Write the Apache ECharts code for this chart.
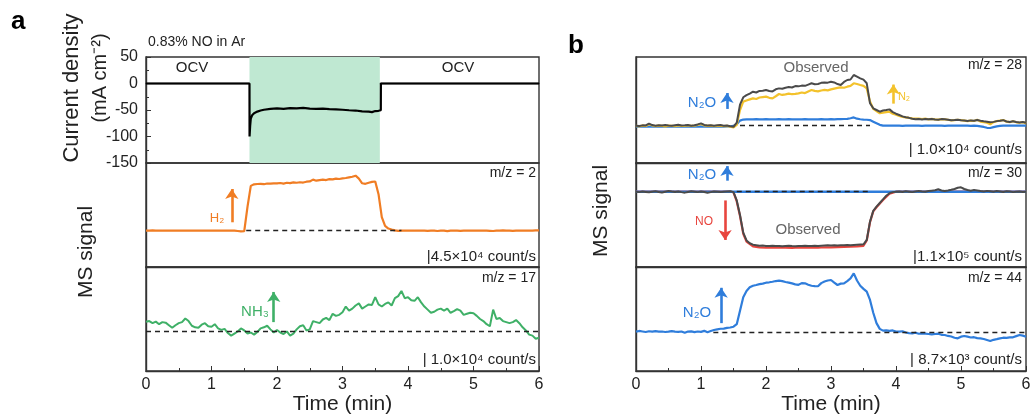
<!DOCTYPE html>
<html>
<head>
<meta charset="utf-8">
<script src="https://cdn.jsdelivr.net/npm/echarts@6/dist/echarts.min.js"></script>
<style>
html, body { margin: 0; padding: 0; background: #fff; }
#chart { width: 1031px; height: 416px; }
</style>
</head>
<body>
<div id="chart"></div>
<script>
// sampling grid of the MS traces (min)
const timeMin = [
  0, 0.05, 0.1, 0.15, 0.2, 0.25, 0.3, 0.35, 0.4, 0.45,
  0.5, 0.55, 0.6, 0.65, 0.7, 0.75, 0.8, 0.85, 0.9, 0.95,
  1, 1.05, 1.1, 1.15, 1.2, 1.25, 1.3, 1.35, 1.4, 1.45,
  1.5, 1.55, 1.6, 1.65, 1.7, 1.75, 1.8, 1.85, 1.9, 1.95,
  2, 2.05, 2.1, 2.15, 2.2, 2.25, 2.3, 2.35, 2.4, 2.45,
  2.5, 2.55, 2.6, 2.65, 2.7, 2.75, 2.8, 2.85, 2.9, 2.95,
  3, 3.05, 3.1, 3.15, 3.2, 3.25, 3.3, 3.35, 3.4, 3.45,
  3.5, 3.55, 3.6, 3.65, 3.7, 3.75, 3.8, 3.85, 3.9, 3.95,
  4, 4.05, 4.1, 4.15, 4.2, 4.25, 4.3, 4.35, 4.4, 4.45,
  4.5, 4.55, 4.6, 4.65, 4.7, 4.75, 4.8, 4.85, 4.9, 4.95,
  5, 5.05, 5.1, 5.15, 5.2, 5.25, 5.3, 5.35, 5.4, 5.45,
  5.5, 5.55, 5.6, 5.65, 5.7, 5.75, 5.8, 5.85, 5.9, 5.95,
  6
];

// current density (mA cm-2)
const currentTime = [0, 1.58, 1.581, 1.59, 1.6, 1.62, 1.65, 1.7, 1.75, 1.8,
  1.9, 2.0, 2.1, 2.2, 2.3, 2.4, 2.5, 2.6, 2.7, 2.8, 2.9, 3.0, 3.1, 3.2, 3.3, 3.4,
  3.45, 3.5, 3.55, 3.585, 3.586, 6];
const currentDensity = [0, 0, -100, -80, -66, -60, -56, -53, -51, -49.5,
  -48, -47, -48, -46.5, -47, -46, -47.5, -48, -47.5, -48.5, -49, -49.5, -50.5, -51, -52.5, -53,
  -54, -52, -51.5, -50.5, 0, 0];

// MS signals, relative units (0 = panel bottom, 100 = panel top)
const h2Mz2 = [
  35, 35, 35.2, 35, 34.9, 35, 35.1, 35, 35, 34.9,
  35, 35, 35.1, 35, 35, 34.9, 35, 35, 35.1, 35,
  35, 35, 34.9, 35, 35, 35, 35.1, 35, 34.6, 34.2,
  34.5, 58, 78, 79.5, 79.8, 80, 79.6, 80.3, 80.2, 80.5,
  80.4, 80.8, 80.2, 81, 80.6, 81.3, 81, 81.5, 81.2, 82,
  82.3, 84, 83, 83.5, 84, 83.6, 84.5, 84.2, 85, 84.6,
  85.2, 85.6, 86.2, 86.8, 87.8, 85, 80.5, 80, 81, 81.8,
  82.2, 70, 48, 39.5, 37, 36, 35.2, 34.8, 35, 35,
  35, 35.1, 35, 34.9, 35, 35, 34.8, 35, 35, 34.6,
  35, 34.9, 34.5, 35, 35, 35, 34.8, 35, 35, 35,
  35, 34.9, 35, 35, 35, 34.8, 34.6, 35, 35, 35.2,
  35, 35, 34.8, 35, 35, 34.9, 35, 35, 35, 35.3,
  35.3
];
const nh3Mz17 = [
  47.4, 48, 46, 47.5, 45, 47, 46.5, 44, 41.5, 44,
  46, 47, 50.5, 48, 43.5, 42, 41.5, 44.5, 46, 43,
  42.5, 45, 41, 39.5, 40.5, 36.5, 34, 36, 38, 41,
  39, 36, 37, 35, 37.5, 41, 42, 43.5, 40, 37,
  39.5, 37, 35.5, 38, 34, 36, 40, 43, 44, 39,
  40, 48, 47, 46, 49.5, 51, 49, 55, 53, 54,
  56.5, 62, 58, 60, 63, 65, 60, 62, 64, 63.5,
  71, 64, 62, 64.5, 66, 63, 70, 72, 77, 70,
  71, 68, 67.5, 71, 66, 62, 59, 56, 57, 59,
  60, 58, 60, 56, 57.5, 59.5, 58, 54, 55, 56,
  55.5, 53, 50, 48, 45, 43, 59, 50, 51, 48,
  47, 46, 47, 49, 46, 42, 39, 35, 34, 31,
  32
];
const n2oMz28 = [
  34.3, 34.5, 34.2, 34.4, 34.6, 34.3, 34.4, 34.2, 34.5, 34.3,
  34.4, 34.3, 34.5, 34.2, 34.4, 34.3, 34.5, 34.4, 34.2, 34.4,
  34.5, 34.3, 34.4, 34.2, 34.4, 34.5, 34.3, 34.4, 34.5, 34.6,
  35, 36.5, 40, 41, 41.2, 41.2, 41.1, 41.3, 41.2, 41.2,
  41.3, 41.2, 41.2, 41.1, 41.3, 41.2, 41.2, 41.3, 41.2, 41.2,
  41.1, 41.2, 41.3, 41.2, 41.2, 41.1, 41.2, 41.3, 41.2, 41.2,
  41.3, 41.2, 41.3, 41.4, 41.5, 41.6, 42.2, 43, 41.8, 41.3,
  41, 40.8, 40.5, 39, 37.5, 36, 35.3, 35.2, 35.2, 35.2,
  35.2, 35.2, 35.1, 35.2, 35.2, 35.3, 35.2, 35.2, 35.1, 35.2,
  35.2, 35.2, 35.3, 35.2, 35.2, 35.1, 35.2, 35.2, 35.2, 35.2,
  35.2, 35.2, 35.2, 35.1, 35.2, 35, 34.5, 34, 33.2, 33,
  33.8, 34.6, 35, 35.2, 35.2, 35.2, 35.2, 35.2, 35.2, 35.2,
  35.2
];
const n2Mz28 = [
  35, 34.6, 35.3, 35, 36.5, 35.4, 34.8, 35.2, 35, 34.5,
  35.2, 35, 34.8, 35.5, 35, 34.9, 35.4, 35, 35.2, 36,
  36.8, 35.5, 35, 35.2, 34.8, 35, 35.1, 34.8, 35, 34.2,
  33.5, 36, 50, 57.9, 59, 60, 61, 60.4, 61.8, 62.2,
  62.6, 61.5, 61, 63, 65.1, 64.2, 64.8, 65.5, 64.9, 65.2,
  65.7, 66.5, 66, 67.5, 68.9, 68, 67.6, 68.4, 69, 68.5,
  69.5, 70.2, 70.8, 71.4, 71, 72, 72.8, 75.2, 74.5, 73.6,
  72.8, 70.4, 58, 51, 49, 46.9, 47.5, 48, 48.4, 46.5,
  45.5, 44.3, 43.5, 43, 42.5, 42.1, 41.8, 42, 41.5, 41.8,
  41.2, 41.6, 41.2, 41, 41.4, 41.2, 40.8, 40.2, 40.5, 40.8,
  40.4, 40, 39.5, 40, 39.6, 40.8, 39, 38.5, 38, 36.5,
  38.5, 39.5, 40, 40.6, 39, 38.5, 39.4, 38.4, 38, 38.6,
  37.4
];
const observedMz28 = [
  35.2, 35, 35.5, 35.4, 37.2, 35.8, 35.2, 35.6, 35.3, 35.9,
  35.4, 35.2, 35.6, 36, 35.3, 35.5, 35.8, 35.2, 35.6, 36.4,
  37.4, 35.9, 35.4, 35.6, 35.2, 35.5, 35.8, 35.2, 35.4, 34.6,
  34.2, 38, 55, 62, 64, 65.5, 67.3, 66.5, 68, 68.2,
  68.9, 68, 67.5, 69.5, 70.4, 70, 71, 71.6, 71.2, 72.6,
  72.3, 73, 72.8, 74, 75.2, 74.3, 74.5, 75.6, 76, 75.8,
  76.7, 76, 74.5, 73.6, 76.5, 78.3, 78.8, 83, 81.5, 79.9,
  78.6, 75.2, 56.3, 51.6, 50, 48.4, 49.5, 50, 50.6, 48,
  46.5, 45.3, 44, 43.2, 42.6, 41.8, 41.2, 41.6, 41, 41.5,
  41.2, 41.6, 41, 40.8, 41.4, 41.2, 40.8, 40.4, 40.6, 40.9,
  40.4, 40, 39.6, 40.2, 39.8, 40.6, 39.9, 39.4, 39, 38.4,
  38.8, 39.5, 39.9, 40.4, 39.2, 38.6, 39.4, 38.6, 38.2, 38.6,
  38
];
const observedMz30 = [
  72.4, 72, 72.6, 72.2, 71.8, 72.4, 72.8, 72.2, 71.6, 72.3,
  73, 72.5, 72.2, 72.6, 72, 71.5, 72.2, 72.8, 72.4, 72,
  72.5, 72.2, 71.4, 72, 72.6, 72.3, 72, 72.4, 72.6, 72.8,
  72, 64, 50, 33, 25.5, 22.8, 21.5, 21, 20.5, 20.6,
  20.3, 20.2, 20.4, 20.1, 20.3, 20, 20.2, 20.4, 20.1, 20,
  20.3, 20.2, 20.4, 20.1, 20.3, 20.5, 20.2, 20.4, 20.6, 20.8,
  20.6, 20.9, 20.7, 21, 20.8, 21.1, 21, 21.2, 21.4, 21.6,
  21.8, 26, 43.6, 54, 58, 61.5, 65, 68.5, 71, 72,
  72.4, 72.6, 72.2, 72.8, 72.4, 72, 72.5, 73, 72.6, 72.3,
  73, 73.4, 73.8, 74.7, 73.6, 73, 73.5, 74.2, 75, 76.2,
  76.6, 75, 74, 73.4, 74, 73.5, 73, 72.6, 73.2, 72.8,
  72.4, 73, 72.6, 72.2, 72.8, 72.5, 72, 72.4, 72.6, 72.2,
  72.4
];
const noTime = [0, 1.45, 1.5, 1.55, 1.6, 1.65, 1.7, 1.8, 1.9, 2.0, 2.1, 2.2, 2.3, 2.4, 2.5,
  2.6, 2.7, 2.8, 2.9, 3.0, 3.1, 3.2, 3.3, 3.4, 3.5, 3.55, 3.6, 3.65, 3.7, 3.8, 3.9, 4.0, 6];
const noMz30 = [72.4, 72.6, 71.8, 63, 49, 32, 24.5, 19.8, 18.9, 18.6, 18.8, 18.5, 18.7, 18.4, 18.8,
  18.6, 18.9, 18.7, 19, 18.8, 19.2, 19.4, 19.6, 19.8, 20.4, 25.5, 43, 53.5, 57.5, 64.5, 70.5, 72.4, 72.4];
const n2oMz30Time = [0, 6];
const n2oMz30 = [72.4, 72.4];
const n2oMz44 = [
  37.8, 38.5, 38, 37.5, 38.2, 37.8, 38.3, 37.9, 38, 37.5,
  37.8, 38.4, 37.9, 37.6, 38, 36.8, 37.9, 38.1, 37.4, 38,
  37.6, 38.6, 37.2, 38.4, 39.4, 40, 40.6, 40.8, 41.5, 41.8,
  42.6, 45, 58, 71, 77, 80.5, 82, 82.7, 83.5, 84,
  84.9, 85.3, 85.8, 86.5, 86.9, 86.4, 85.6, 85, 84.2, 83.3,
  82.9, 84.5, 84.3, 83, 82, 81.7, 81.5, 84.5, 86, 87,
  87.5, 85, 82.7, 84, 84.3, 86.5, 89, 93.9, 87, 82,
  79, 76.3, 68.3, 56, 46, 40.5, 38.8, 39, 38.5, 39,
  38, 37.8, 38.2, 37, 36.5, 36.2, 36.8, 35.8, 36.2, 35.9,
  35.6, 35.2, 35.6, 35.9, 34.8, 34.6, 33.7, 33.2, 32, 31.4,
  33, 33.7, 33, 32.2, 32.5, 31.6, 31.4, 30.8, 29.8, 28.8,
  30, 30.6, 31.4, 32, 31.8, 32.3, 32.4, 33.5, 34.6, 34,
  33
];

const xTicks = [0, 1, 2, 3, 4, 5, 6];
const currentTicks = [-150, -100, -50, 0, 50];

const FONT = 'Liberation Sans, Arial, sans-serif';
const INK = '#222';
const ORANGE = '#f07d24', GREEN = '#3fb067', BLUE = '#2f7ddb', YELLOW = '#f3c22c',
  GRAY = '#4a4a4a', RED = '#e8453e', SHADE = '#bfe8d2';

const pair = (xs, ys) => xs.map((x, i) => [x, ys[i]]);

const tops = [57, 163, 267];
const heights = [106, 104, 104];
const grid = [];
[[146, 393], [636, 390]].forEach(([left, width]) => {
  tops.forEach((top, i) => grid.push({
    left, top, width, height: heights[i], show: true,
    borderColor: '#333', borderWidth: 1.4, backgroundColor: 'transparent',
    outerBoundsMode: 'none'
  }));
});

const xAxis = grid.map((g, i) => {
  const bottom = i % 3 === 2;
  return {
    type: 'value', gridIndex: i, min: xTicks[0], max: xTicks[xTicks.length - 1], interval: 1,
    splitLine: { show: false },
    axisLine: { show: true, lineStyle: { color: '#333', width: 1.4 } },
    axisTick: { show: bottom, inside: true, length: 5, lineStyle: { color: '#333' } },
    minorTick: { show: bottom, splitNumber: 2, length: 3, lineStyle: { color: '#333' } },
    axisLabel: { show: bottom, fontSize: 16, color: INK, fontFamily: FONT, margin: 6 },
    name: bottom ? 'Time (min)' : '', nameLocation: 'middle', nameGap: 21,
    nameTextStyle: { fontSize: 21, color: INK, fontFamily: FONT }
  };
});

const yAxis = grid.map((g, i) => {
  if (i === 0) {
    return {
      type: 'value', gridIndex: 0, min: currentTicks[0], max: currentTicks[currentTicks.length - 1], interval: 50,
      splitLine: { show: false },
      axisLine: { show: true, lineStyle: { color: '#333', width: 1.4 } },
      axisTick: { show: true, inside: true, length: 5, lineStyle: { color: '#333' } },
      minorTick: { show: true, splitNumber: 2, length: 3, lineStyle: { color: '#333' } },
      axisLabel: { fontSize: 16, color: INK, fontFamily: FONT, margin: 8 }
    };
  }
  return {
    type: 'value', gridIndex: i, min: 0, max: 100,
    splitLine: { show: false }, axisTick: { show: false }, axisLabel: { show: false },
    axisLine: { show: true, lineStyle: { color: '#333', width: 1.4 } }
  };
});

const dashed = (x0, x1, y) => ({
  silent: true, symbol: 'none', label: { show: false },
  lineStyle: { color: '#222', type: [5, 4], width: 1.3 },
  data: [[{ coord: [x0, y] }, { coord: [x1, y] }]]
});
const arrowLine = (x, y0, y1, color) => ({
  silent: true, symbol: ['none', 'arrow'], symbolSize: 10, label: { show: false },
  lineStyle: { color, type: 'solid', width: 2.6 },
  data: [[{ coord: [x, y0] }, { coord: [x, y1] }]]
});
const line = (gi, data, color, width, extra) => Object.assign({
  type: 'line', xAxisIndex: gi, yAxisIndex: gi, data, symbol: 'none', silent: true,
  lineStyle: { color, width }, itemStyle: { color }
}, extra || {});

const series = [
  line(0, pair(currentTime, currentDensity), '#000', 2.2, {
    z: 3,
    markArea: {
      silent: true, itemStyle: { color: SHADE, opacity: 1 },
      data: [[{ xAxis: 1.58 }, { xAxis: 3.57 }]]
    }
  }),
  line(1, pair(timeMin, h2Mz2), ORANGE, 2.2, { markLine: dashed(1.53, 3.9, 35) }),
  line(1, [], ORANGE, 1, { markLine: arrowLine(1.31, 43, 75, ORANGE) }),
  line(2, pair(timeMin, nh3Mz17), GREEN, 2, { markLine: dashed(0, 6, 38.5) }),
  line(2, [], GREEN, 1, { markLine: arrowLine(1.95, 47, 76, GREEN) }),
  line(3, pair(timeMin, n2oMz28), BLUE, 2.2, { markLine: arrowLine(1.4, 51, 66, BLUE) }),
  line(3, pair(timeMin, n2Mz28), YELLOW, 2.2, { markLine: arrowLine(3.96, 56, 74, YELLOW) }),
  line(3, pair(timeMin, observedMz28), GRAY, 2, { markLine: dashed(1.6, 3.6, 35.8) }),
  line(4, pair(noTime, noMz30), RED, 2.2, { markLine: arrowLine(1.37, 64, 26, RED) }),
  line(4, pair(n2oMz30Time, n2oMz30), BLUE, 2.6, { markLine: arrowLine(1.4, 83, 97, BLUE) }),
  line(4, pair(timeMin, observedMz30), GRAY, 2, { markLine: dashed(1.55, 3.6, 72.4) }),
  line(5, pair(timeMin, n2oMz44), BLUE, 2.2, { markLine: dashed(1.19, 6, 36.9) }),
  line(5, [], BLUE, 1, { markLine: arrowLine(1.31, 46, 80, BLUE) })
];

const txt = (x, y, text, size, color, align, extra) => Object.assign({
  type: 'text', x, y, silent: true,
  style: { text, fontSize: size, fontFamily: FONT, fill: color || INK, align: align || 'center', verticalAlign: 'middle' }
}, extra || {});
const vtxt = (x, y, text, size) => txt(x, y, text, size, INK, 'center', { rotation: Math.PI / 2 });
const boldTxt = (x, y, text) => ({
  type: 'text', x, y, silent: true,
  style: { text, fontSize: 26, fontWeight: 'bold', fontFamily: FONT, fill: '#000', align: 'left', verticalAlign: 'middle' }
});

const graphic = [
  boldTxt(11, 22, 'a'),
  boldTxt(568, 46, 'b'),
  vtxt(72, 88, 'Current density', 22),
  vtxt(100, 78, '(mA cm\u207B\u00B2)', 20),
  vtxt(86, 252, 'MS signal', 21),
  vtxt(601, 211, 'MS signal', 21),
  txt(148, 42, '0.83% NO in Ar', 14, INK, 'left'),
  txt(192, 68, 'OCV', 15),
  txt(313, 68, '-1.00 V vs. RHE', 15),
  txt(458, 68, 'OCV', 15),
  txt(536, 173, 'm/z = 2', 14, INK, 'right'),
  txt(536, 257, '|4.5\u00D710\u2074 count/s', 15, INK, 'right'),
  txt(217, 218, 'H\u2082', 13, ORANGE),
  txt(536, 278, 'm/z = 17', 14, INK, 'right'),
  txt(536, 360, '| 1.0\u00D710\u2074 count/s', 15, INK, 'right'),
  txt(255, 312, 'NH\u2083', 15, GREEN),
  txt(1022, 65, 'm/z = 28', 14, INK, 'right'),
  txt(1022, 150, '| 1.0\u00D710\u2074 count/s', 15, INK, 'right'),
  txt(816, 68, 'Observed', 15, '#666'),
  txt(702, 103, 'N\u2082O', 15, BLUE),
  txt(904, 97, 'N\u2082', 11, YELLOW),
  txt(1022, 173, 'm/z = 30', 14, INK, 'right'),
  txt(1022, 257, '|1.1\u00D710\u2075 count/s', 15, INK, 'right'),
  txt(702, 175, 'N\u2082O', 15, BLUE),
  txt(704, 222, 'NO', 12, RED),
  txt(808, 230, 'Observed', 15, '#666'),
  txt(1022, 278, 'm/z = 44', 14, INK, 'right'),
  txt(1022, 360, '| 8.7\u00D710\u00B3 count/s', 15, INK, 'right'),
  txt(697, 313, 'N\u2082O', 15, BLUE)
];

const chart = echarts.init(document.getElementById('chart'));
chart.setOption({
  animation: false,
  backgroundColor: '#fff',
  grid, xAxis, yAxis, series, graphic
});
</script>
</body>
</html>
